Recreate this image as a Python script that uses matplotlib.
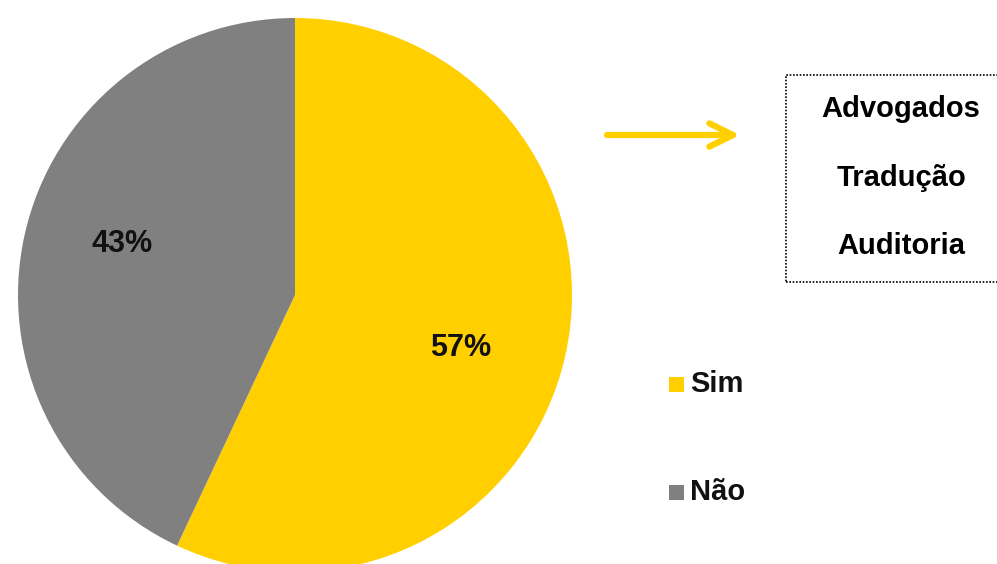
import matplotlib.pyplot as plt
from matplotlib.patches import Rectangle

# survey answers
categories = ['Sim', 'Não']
shares = [57, 43]
colors = ['#FFCF00', '#808080']
services = ['Advogados', 'Tradução', 'Auditoria']

W, H = 997, 564
plt.rcParams['font.family'] = ['Liberation Sans', 'DejaVu Sans']

fig = plt.figure(figsize=(W / 100, H / 100), dpi=100)
ax = fig.add_axes([0, 0, 1, 1])

# pie drawn in pixel coordinates (y measured upward)
wedges, texts, autotexts = ax.pie(
    shares, colors=colors, startangle=90, counterclock=False,
    center=(295, H - 295), radius=277, autopct='%1.0f%%',
    pctdistance=0.63, textprops=dict(fontsize=22, fontweight='bold', color='#111111'),
    wedgeprops=dict(linewidth=0))

label_pos = [(461, H - 356), (122, H - 252)]
for t, pos in zip(autotexts, label_pos):
    t.set_position(pos)
    t.set_verticalalignment('baseline')
    t.set_horizontalalignment('center')

# legend on the right, one row per answer
for i, (name, col) in enumerate(zip(categories, colors)):
    y0 = H - (392 + 108 * i)
    ax.add_patch(Rectangle((669, y0), 15, 15, facecolor=col, edgecolor='none'))
    ax.text(690, y0, name, fontsize=21, fontweight='bold', ha='left', va='baseline', color='#111111')

# arrow pointing to the services box
ax.annotate('', xy=(740, H - 135), xytext=(607, H - 135),
            arrowprops=dict(arrowstyle='->,head_length=0.85,head_width=0.42',
                            lw=4.5, color='#FFCF00', mutation_scale=20,
                            capstyle='round', joinstyle='round', shrinkA=0, shrinkB=0))

# dotted box with the service names
ax.add_patch(Rectangle((786, H - 282), 230, 207, fill=False, edgecolor='black',
                       linewidth=1.2, linestyle=(0, (1, 1))))
for i, s in enumerate(services):
    ax.text(901, H - (117 + 68.5 * i), s, fontsize=21, fontweight='bold',
            ha='center', va='baseline', color='black')

ax.set_xlim(0, W)
ax.set_ylim(0, H)
ax.set_aspect('auto')
ax.axis('off')

fig.savefig('out.png', dpi=100, facecolor='white')
